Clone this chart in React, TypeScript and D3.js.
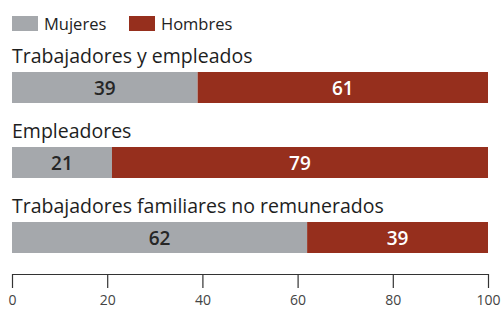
import { useEffect, useRef } from 'react'
import * as d3 from 'd3'

const categories = ['Trabajadores y empleados', 'Empleadores', 'Trabajadores familiares no remunerados']
const mujeres = [39, 21, 62]
const hombres = [61, 79, 39]
const seriesNames = ['Mujeres', 'Hombres']
const ticks = [0, 20, 40, 60, 80, 100]

const GRAY = '#a5a8ac'
const RED = '#962f1d'

export default function App() {
  const svgRef = useRef<SVGSVGElement>(null)

  useEffect(() => {
    if (!svgRef.current) return
    const svg = d3.select(svgRef.current)
    svg.selectAll('*').remove()

    const width = 501
    const height = 310
    const font = '"Open Sans", sans-serif'

    const x = d3.scaleLinear().domain([0, 100]).range([12, 488])
    const rowTop = d3.scalePoint<string>().domain(categories).range([72, 222])
    const barH = 31

    // Legend
    const legend = svg.append('g')
    seriesNames.forEach((name, i) => {
      const lx = i === 0 ? 12 : 129
      legend.append('rect')
        .attr('x', lx).attr('y', 16)
        .attr('width', 26).attr('height', 15)
        .attr('fill', i === 0 ? GRAY : RED)
      legend.append('text')
        .attr('x', lx + 32).attr('y', 30)
        .attr('font-family', font).attr('font-size', 16.5)
        .attr('fill', '#222')
        .text(name)
    })

    // Rows
    categories.forEach((cat, i) => {
      const top = rowTop(cat)!
      const g = svg.append('g')

      g.append('text')
        .attr('x', 12).attr('y', top - 9)
        .attr('font-family', font).attr('font-size', 19.5)
        .attr('fill', '#1e1e1e')
        .text(cat)

      const m = mujeres[i]
      const h = hombres[i]
      const end = Math.min(100, m + h)

      g.append('rect')
        .attr('x', x(0)).attr('y', top)
        .attr('width', x(m) - x(0)).attr('height', barH)
        .attr('fill', GRAY)
      g.append('rect')
        .attr('x', x(m)).attr('y', top)
        .attr('width', x(end) - x(m)).attr('height', barH)
        .attr('fill', RED)

      g.append('text')
        .attr('x', (x(0) + x(m)) / 2).attr('y', top + barH / 2 + 7)
        .attr('text-anchor', 'middle')
        .attr('font-family', font).attr('font-size', 19).attr('font-weight', 600)
        .attr('fill', '#262626')
        .text(m)
      g.append('text')
        .attr('x', (x(m) + x(end)) / 2).attr('y', top + barH / 2 + 7)
        .attr('text-anchor', 'middle')
        .attr('font-family', font).attr('font-size', 19).attr('font-weight', 600)
        .attr('fill', '#fff')
        .text(h)
    })

    // Axis
    const axis = svg.append('g')
      .attr('transform', 'translate(0,274)')
      .call(d3.axisBottom(x).tickValues(ticks).tickSize(14).tickPadding(7).tickSizeOuter(0))
    axis.select('.domain').attr('stroke', '#333').attr('stroke-width', 1.2)
    axis.selectAll('.tick line').attr('stroke', '#333').attr('stroke-width', 1.2)
    axis.selectAll('.tick text')
      .attr('fill', '#444').attr('font-size', 14).attr('font-family', font)

    svg.attr('width', width).attr('height', height)
  }, [])

  return (
    <div style={{ position: 'fixed', left: 0, top: 0, background: '#fff' }}>
      <svg ref={svgRef} width={501} height={310} />
    </div>
  )
}
